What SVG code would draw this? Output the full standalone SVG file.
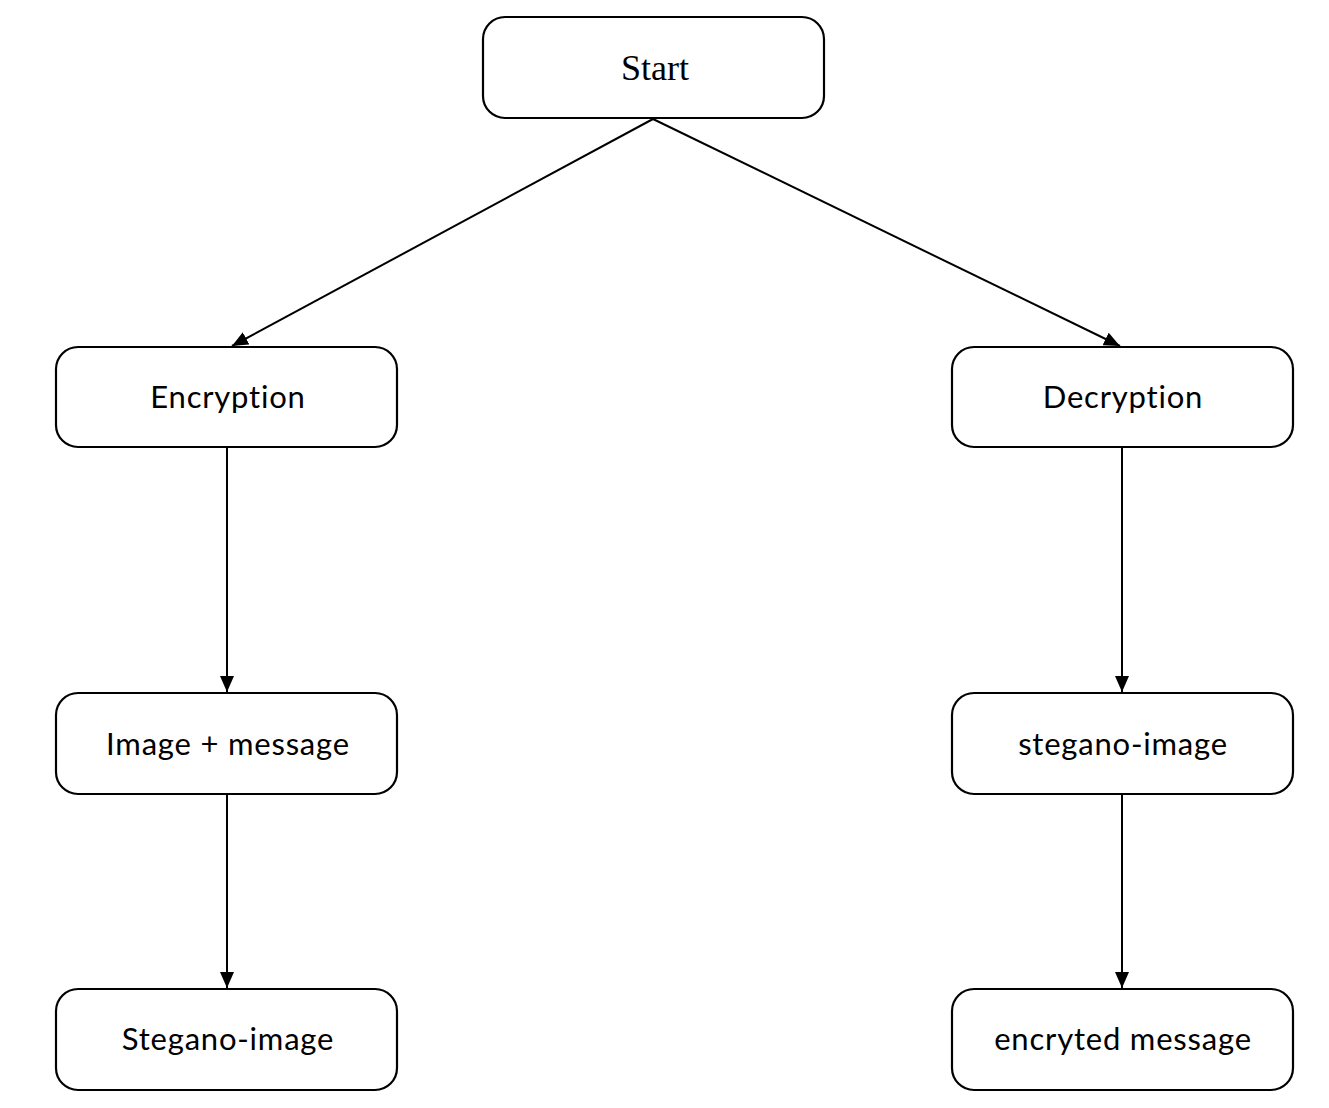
<svg xmlns="http://www.w3.org/2000/svg" width="1329" height="1108" viewBox="0 0 1329 1108">
<style>
.box{fill:#fff;stroke:#000;stroke-width:2.2}
.t{font-family:Lato,"Open Sans",sans-serif;font-size:31px;letter-spacing:0.8px;font-variant-ligatures:none;text-anchor:middle;fill:#000}
.s{font-family:"Liberation Serif","Times New Roman",serif;font-size:36px;text-anchor:middle;fill:#000}
.c{stroke:#000;stroke-width:2;fill:none}
</style>
<defs>
<marker id="ah" viewBox="0 0 16 14" refX="16" refY="7" markerWidth="16" markerHeight="14" markerUnits="userSpaceOnUse" orient="auto">
<path d="M0,0 L16,7 L0,14 z" fill="#000"/>
</marker>
</defs>
<rect width="1329" height="1108" fill="#fff"/>
<g id="connectors">
<path class="c" d="M653,119 L232,346" marker-end="url(#ah)"/>
<path class="c" d="M653,119 L1120,346" marker-end="url(#ah)"/>
<path class="c" d="M227,448 L227,692" marker-end="url(#ah)"/>
<path class="c" d="M227,795 L227,988" marker-end="url(#ah)"/>
<path class="c" d="M1122,448 L1122,692" marker-end="url(#ah)"/>
<path class="c" d="M1122,795 L1122,988" marker-end="url(#ah)"/>
</g>
<g id="start"><rect class="box" x="483" y="17" width="341" height="101" rx="22"/><text class="s" x="655" y="80">Start</text></g>
<g id="encryption"><rect class="box" x="56" y="347" width="341" height="100" rx="22"/><text class="t" x="228" y="408">Encryption</text></g>
<g id="decryption"><rect class="box" x="952" y="347" width="341" height="100" rx="22"/><text class="t" x="1123" y="408">Decryption</text></g>
<g id="image-message"><rect class="box" x="56" y="693" width="341" height="101" rx="22"/><text class="t" x="228" y="755">Image + message</text></g>
<g id="stegano-image-r"><rect class="box" x="952" y="693" width="341" height="101" rx="22"/><text class="t" x="1123" y="755">stegano-image</text></g>
<g id="stegano-image-l"><rect class="box" x="56" y="989" width="341" height="101" rx="22"/><text class="t" x="228" y="1050">Stegano-image</text></g>
<g id="encryted-message"><rect class="box" x="952" y="989" width="341" height="101" rx="22"/><text class="t" x="1123" y="1050">encryted message</text></g>
</svg>
